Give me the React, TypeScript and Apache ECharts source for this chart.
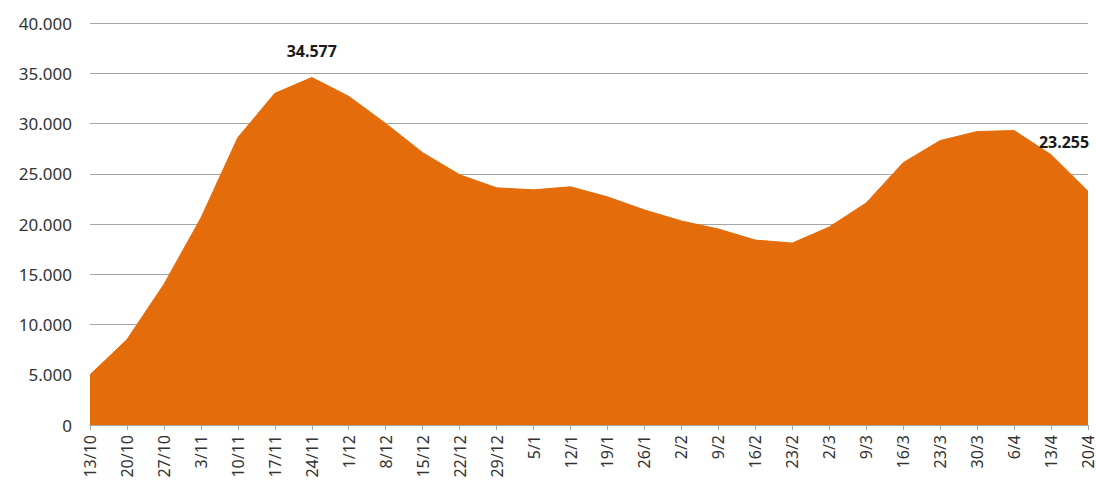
import React, { useEffect, useRef } from "react";
import * as echarts from "echarts";

const categories = [
  "13/10", "20/10", "27/10", "3/11", "10/11", "17/11", "24/11", "1/12", "8/12", "15/12",
  "22/12", "29/12", "5/1", "12/1", "19/1", "26/1", "2/2", "9/2", "16/2", "23/2",
  "2/3", "9/3", "16/3", "23/3", "30/3", "6/4", "13/4", "20/4",
];

const values = [
  5000, 8500, 14000, 20600, 28600, 33000, 34577, 32700, 30000, 27100,
  24900, 23600, 23400, 23700, 22700, 21400, 20300, 19500, 18400, 18100,
  19700, 22100, 26100, 28300, 29200, 29300, 26900, 23255,
];

const labelledIndexes = [6, 27];

const fmt = (v: number) =>
  v === 0 ? "0" : Math.round(v).toString().replace(/\B(?=(\d{3})+(?!\d))/g, ".");

export default function App() {
  const ref = useRef<HTMLDivElement>(null);
  useEffect(() => {
    document.body.style.margin = "0";
    const chart = echarts.init(ref.current!, null, { renderer: "svg" });
    const orange = "#E46C0A";
    const data = values.map((v, i) => {
      if (!labelledIndexes.includes(i)) return v;
      const last = i === values.length - 1;
      return {
        value: v,
        label: {
          show: true,
          position: "top",
          offset: last ? [-24, -36] : [0, -14],
          formatter: (p: any) => fmt(p.value),
          fontFamily: "Noto Sans",
          fontSize: 16,
          fontWeight: "bold",
          color: "#1a1a1a",
        },
      };
    });
    chart.setOption({
      animation: false,
      backgroundColor: "#ffffff",
      grid: { left: 90, right: 3, top: 23, bottom: 62, containLabel: false },
      xAxis: {
        type: "category",
        data: categories,
        boundaryGap: false,
        axisLine: { lineStyle: { color: "#a6a6a6", width: 1 } },
        axisTick: { show: true, alignWithLabel: true, length: 5, lineStyle: { color: "#a6a6a6" } },
        axisLabel: {
          interval: 0,
          rotate: 90,
          margin: 10,
          fontFamily: "Noto Sans",
          fontSize: 16,
          color: "#333333",
        },
      },
      yAxis: {
        type: "value",
        min: 0,
        max: 40000,
        interval: 5000,
        axisLine: { show: false },
        axisTick: { show: false },
        splitLine: { lineStyle: { color: "#a6a6a6", width: 1 } },
        axisLabel: {
          margin: 18,
          fontFamily: "Noto Sans",
          fontSize: 17,
          color: "#333333",
          formatter: (v: number) => fmt(v),
        },
      },
      series: [
        {
          type: "line",
          data,
          showSymbol: true,
          showAllSymbol: true,
          symbol: "circle",
          symbolSize: 0,
          itemStyle: { color: orange },
          lineStyle: { color: orange, width: 1 },
          areaStyle: { color: orange, opacity: 1 },
          label: { show: false },
        },
      ],
    });
    return () => chart.dispose();
  }, []);
  return <div ref={ref} style={{ width: 1096, height: 487 }} />;
}
